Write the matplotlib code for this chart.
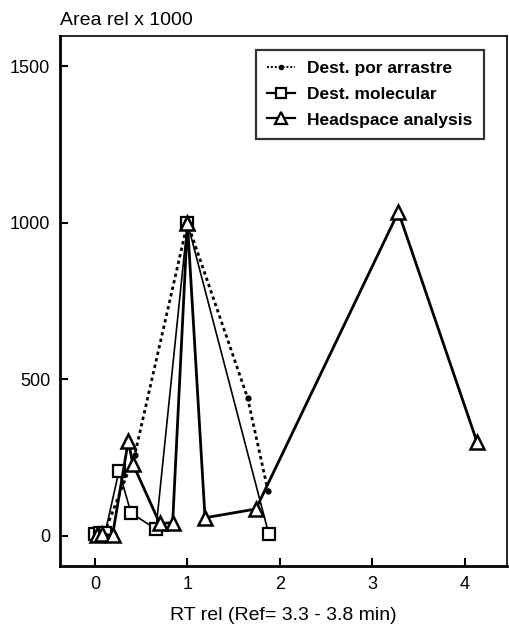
import matplotlib
matplotlib.use("Agg")
import matplotlib.pyplot as plt
from matplotlib.lines import Line2D

# Relative retention time (x) and relative area x 1000 (y) for each method
arrastre_x = [0.03, 0.10, 0.43, 1.00, 1.65, 1.87]
arrastre_y = [5, 8, 259, 1000, 441, 144]

molecular_x = [0.00, 0.05, 0.11, 0.26, 0.39, 0.66, 1.00, 1.88]
molecular_y = [5, 8, 10, 208, 73, 22, 1000, 5]

headspace_x = [0.02, 0.08, 0.19, 0.36, 0.41, 0.70, 0.84, 1.00, 1.19, 1.74, 3.28, 4.13]
headspace_y = [3, 5, 2, 303, 230, 40, 42, 1000, 58, 86, 1035, 300]

labels = ['Dest. por arrastre', 'Dest. molecular', 'Headspace analysis']
x_ticks = [0, 1, 2, 3, 4]
y_ticks = [0, 500, 1000, 1500]

plt.rcParams['font.family'] = ['Liberation Sans', 'DejaVu Sans']

fig = plt.figure(figsize=(5.10, 6.29), dpi=100)
ax = fig.add_axes([0.1176, 0.1002, 0.8765, 0.8426])

ax.plot(arrastre_x, arrastre_y, linestyle=(0, (1.2, 1.2)), color='black', lw=2.0,
        marker='o', markersize=3.5, markerfacecolor='black', zorder=3)
ax.plot(molecular_x, molecular_y, linestyle='-', color='black', lw=1.2,
        marker='s', markersize=8.5, markerfacecolor='white', markeredgewidth=1.6,
        zorder=4)
ax.plot(headspace_x, headspace_y, linestyle='-', color='black', lw=2.0,
        marker='^', markersize=10, markerfacecolor='white', markeredgewidth=1.8,
        zorder=5)

ax.set_xlim(-0.378, 4.454)
ax.set_ylim(-96, 1597)
ax.set_xticks(x_ticks)
ax.set_yticks(y_ticks)
ax.tick_params(direction='in', length=6, width=1.5, labelsize=13, pad=7)

for side in ['left', 'bottom']:
    ax.spines[side].set_linewidth(2.0)
for side in ['top', 'right']:
    ax.spines[side].set_linewidth(1.2)

fig.text(0.118, 0.968, 'Area rel x 1000', fontsize=14, ha='left', va='center')
ax.set_xlabel('RT rel (Ref= 3.3 - 3.8 min)', fontsize=14, labelpad=10)

# Compact legend handles: short segment with a small marker
handles = [
    Line2D([], [], linestyle=(0, (1, 1)), color='black', lw=1.4,
           marker='o', markersize=3, markerfacecolor='black'),
    Line2D([], [], linestyle='-', color='black', lw=1.6,
           marker='s', markersize=7, markerfacecolor='white', markeredgewidth=1.6),
    Line2D([], [], linestyle='-', color='black', lw=1.6,
           marker='^', markersize=8, markerfacecolor='white', markeredgewidth=1.6),
]
leg = ax.legend(handles, labels, loc='upper right', bbox_to_anchor=(0.9485, 0.9736),
                borderaxespad=0, frameon=True, fancybox=False, edgecolor='black',
                handlelength=1.6, handletextpad=0.7,
                prop={'weight': 'bold', 'size': 12.5}, borderpad=0.65,
                labelspacing=0.6)
leg.get_frame().set_linewidth(1.6)

fig.savefig('out.png', dpi=100)
